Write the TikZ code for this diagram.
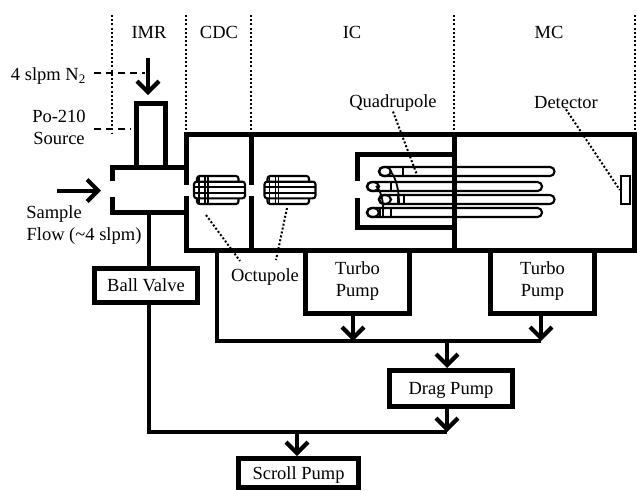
\documentclass[tikz,border=0pt]{standalone}
\usepackage{fontspec}
\setmainfont{Liberation Serif}
\usetikzlibrary{arrows.meta}
\tikzset{
  x=1pt,y=-1pt,
  every node/.style={font=\fontsize{18.5}{22}\selectfont,inner sep=0pt,text=black},
  wall/.style={line width=5pt,line cap=butt,line join=miter},
  pumpbox/.style={draw,line width=5pt,align=center},
  conn/.style={line width=4pt,line join=miter},
  flow/.style={conn,-{Straight Barb[length=11pt,width=22pt,line width=4.2pt]}},
  leader/.style={line width=2pt,dash pattern=on 2pt off 2pt},
  sect/.style={line width=2pt,dash pattern=on 2pt off 2.2pt},
  callout/.style={line width=1.8pt,dash pattern=on 7pt off 5pt},
  rod/.style={line width=2.1pt,rounded corners=2.6pt},
  qrod/.style={line width=2.1pt,rounded corners=4.4pt},
  tick/.style={line width=1.9pt}
}
\begin{document}
\begin{tikzpicture}
\useasboundingbox (0,0) rectangle (637,490);
% section dividers
\foreach \sx in {112,186,251,454,635}{
  \draw[sect] (\sx,15) -- (\sx,134);
}
\node at (149,32) {IMR};
\node at (219,32) {CDC};
\node at (352,32) {IC};
\node at (549,32) {MC};
% octupoles
\foreach \ox in {0,70.5}{
  \begin{scope}[xshift=\ox pt]
    \draw[rod] (197,176) rectangle (238.5,204);
    \draw[rod,fill=white] (194,181.7) rectangle (245,198.3);
    \draw[tick] (194,187.3) -- (245,187.3);
    \draw[tick] (194,192.7) -- (245,192.7);
    \foreach \tx in {199,205,208}{\draw[tick] (\tx,176) -- (\tx,204);}
  \end{scope}
}
% quadrupole
\draw[qrod] (379,167) rectangle (554.5,176);
\draw[qrod] (367,182) rectangle (542,191);
\draw[qrod] (379,195) rectangle (554.5,204);
\draw[qrod] (367,208) rectangle (542,217);
\draw[line width=2.2pt] (385,171.5) ellipse (6 and 4.5);
\draw[line width=2.2pt] (373,186.5) ellipse (6 and 4.5);
\draw[line width=2.2pt] (385,199.5) ellipse (6 and 4.5);
\draw[line width=2.2pt] (373,212.5) ellipse (6 and 4.5);
\draw[tick] (403,167) -- (403,176);
\draw[tick] (391,182) -- (391,191);
\draw[tick] (398,195) -- (398,204);
\draw[tick] (404,195) -- (404,204);
\draw[tick] (380,208) -- (380,217);
\draw[tick] (383,208) -- (383,217);
\draw[tick] (391,208) -- (391,217);
\draw[line width=1.8pt] (390,171) .. controls (396,177) and (399,190) .. (399,204);
\draw[line width=1.8pt] (376,186) .. controls (381,191) and (383,200) .. (383,208);
% chamber
\coordinate (chTL) at (186.5,134);
\coordinate (chTR) at (634,134);
\coordinate (chBR) at (634,250);
\coordinate (chBL) at (186.5,250);
\draw[wall] (186.5,185) -- (chTL) -- (chTR) -- (chBR) -- (chBL) -- (186.5,196);
\draw[wall] (251,134) -- (251,185);
\draw[wall] (251,196) -- (251,250);
\draw[wall] (454,134) -- (454,250);
\draw[wall] (454,154) -- (357,154) -- (357,181);
\draw[wall] (357,198) -- (357,227) -- (454,227);
% IMR
\coordinate (imrBot) at (149,212);
\draw[wall] (112,181) -- (112,167) -- (186.5,167);
\draw[wall] (112,197) -- (112,212) -- (186.5,212);
\draw[wall] (136.5,167) -- (136.5,103) -- (165,103) -- (165,167);
% detector
\node[draw,line width=2.4pt,minimum width=9pt,minimum height=28pt] (det) at (625.5,190) {};
% labels
\node[anchor=east] (nlab) at (86,76) {4 slpm N\textsubscript{2}};
\node[align=center] (polab) at (59,127) {Po-210\\Source};
\node (samplab) at (54,214) {Sample};
\node (flowlab) at (84,236) {Flow (\textasciitilde 4 slpm)};
\node (octlab) at (265,277) {Octupole};
\node (quadlab) at (393,103) {Quadrupole};
\node (detlab) at (566,103) {Detector};
% callouts
\coordinate (nEnd) at (145,73);
\coordinate (poEnd) at (131,129);
\coordinate (nOut) at (94,73);
\coordinate (poOut) at (94,129);
\draw[callout] (nOut) -- (nEnd);
\draw[callout] (poOut) -- (poEnd);
\coordinate (o1) at (206,215);
\coordinate (o1e) at (240,261);
\coordinate (o2) at (287,208);
\coordinate (o2e) at (276,260);
\coordinate (q1) at (417,175);
\draw[leader] (o1) -- (o1e);
\draw[leader] (o2) -- (o2e);
\draw[leader] (quadlab.south) -- (q1);
\draw[leader] (detlab.south) -- (det.west);
% incoming flows
\coordinate (nStart) at (148,58);
\coordinate (nTip) at (148,95);
\coordinate (sStart) at (57,190.5);
\coordinate (sTip) at (101,190.5);
\draw[flow] (nStart) -- (nTip);
\draw[flow] (sStart) -- (sTip);
% pumps
\node[pumpbox,minimum width=103pt,minimum height=34.5pt] (ball) at (146,285.5) {Ball Valve};
\node[pumpbox,minimum width=104pt,minimum height=63pt] (t1) at (357.5,281.5) {Turbo\\Pump};
\node[pumpbox,minimum width=104pt,minimum height=63pt] (t2) at (542.5,281.5) {Turbo\\Pump};
\node[pumpbox,minimum width=123pt,minimum height=36pt,text depth=0pt] (drag) at (451,388.5) {Drag Pump};
\node[pumpbox,minimum width=120pt,minimum height=29pt,text depth=0pt] (scroll) at (298.5,473) {Scroll Pump};
% pipe work
\coordinate (j0) at (217,250);
\coordinate (j1) at (217,341);
\coordinate (j2) at (353,341);
\coordinate (j3) at (541,341);
\coordinate (j4) at (447,341);
\coordinate (k1) at (149,432);
\coordinate (k2) at (297,432);
\coordinate (k3) at (447,432);
\draw[conn] (imrBot) -- (ball.north -| imrBot);
\draw[conn] (ball.south -| imrBot) -- (k1) -- (k3);
\draw[conn] (j0) -- (j1) -- (j3);
\draw[flow] (t1.south -| j2) -- (j2);
\draw[flow] (t2.south -| j3) -- (j3);
\draw[flow] (j4) -- (drag.north -| j4);
\draw[flow] (drag.south -| k3) -- (k3);
\draw[flow] (k2) -- (scroll.north -| k2);
\end{tikzpicture}
\end{document}
